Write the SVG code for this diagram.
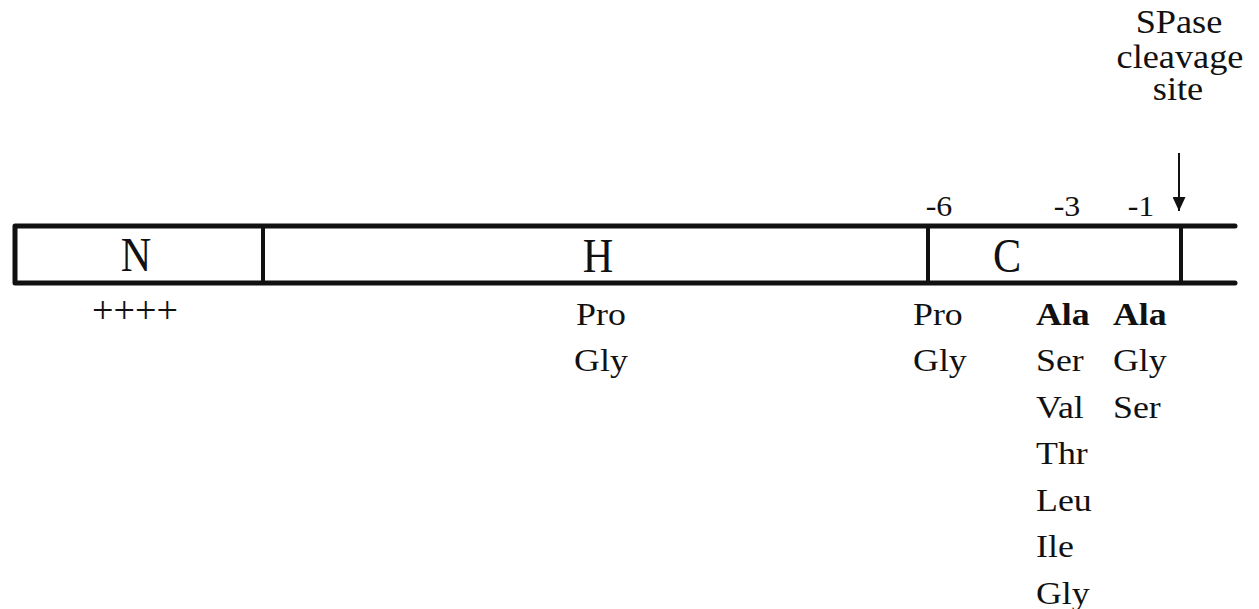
<svg xmlns="http://www.w3.org/2000/svg" width="1259" height="609" viewBox="0 0 1259 609">
<style>
  text { font-family: "Liberation Serif", "Times New Roman", serif; fill: #111; }
  .big { font-size: 48px; text-anchor: middle; transform-box: fill-box; transform-origin: center; transform: scaleX(0.88); }
  .aa { font-size: 32px; transform-box: fill-box; transform-origin: left center; transform: scaleX(1.12); }
  .aam { font-size: 32px; text-anchor: middle; transform-box: fill-box; transform-origin: center; transform: scaleX(1.12); }
  .b { font-weight: bold; }
  .num { font-size: 29px; text-anchor: middle; transform-box: fill-box; transform-origin: center; transform: scaleX(1.1); }
  .lbl { font-size: 33px; text-anchor: middle; transform-box: fill-box; transform-origin: center; transform: scaleX(1.1); }
  .bar { stroke: #111; stroke-width: 5; fill: none; stroke-linecap: round; stroke-linejoin: round; }
  .div { stroke: #111; stroke-width: 4; }
</style>
<defs>
  <marker id="ah" viewBox="0 0 14 13" refX="14" refY="6.5" markerWidth="14" markerHeight="13" markerUnits="userSpaceOnUse" orient="auto">
    <path d="M0,0 L14,6.5 L0,13 Z" fill="#111"/>
  </marker>
</defs>
<g id="bar">
  <path class="bar" d="M1235,226 L15,226 L15,283 L1235,283"/>
  <line class="div" x1="263" y1="226" x2="263" y2="283"/>
  <line class="div" x1="928" y1="226" x2="928" y2="283"/>
  <line class="div" x1="1181" y1="226" x2="1181" y2="283"/>
</g>
<g id="region-N">
  <text class="big" x="136" y="271">N</text>
  <text x="135" y="323" font-size="38" text-anchor="middle" textLength="86" lengthAdjust="spacingAndGlyphs">++++</text>
</g>
<g id="region-H">
  <text class="big" x="598" y="272">H</text>
  <text class="aam" x="601" y="325">Pro</text>
  <text class="aam" x="601" y="371">Gly</text>
</g>
<g id="region-C">
  <text class="big" x="1007" y="272">C</text>
  <text class="num" x="939" y="216">-6</text>
  <text class="num" x="1067" y="216">-3</text>
  <text class="num" x="1141" y="216">-1</text>
  <text class="aa" x="913" y="325">Pro<tspan x="913" dy="46.5">Gly</tspan></text>
  <text class="aa" x="1036" y="325"><tspan class="b">Ala</tspan><tspan x="1036" dy="46.5">Ser</tspan><tspan x="1036" dy="46.5">Val</tspan><tspan x="1036" dy="46.5">Thr</tspan><tspan x="1036" dy="46.5">Leu</tspan><tspan x="1036" dy="46.5">Ile</tspan><tspan x="1036" dy="46.5">Gly</tspan></text>
  <text class="aa" x="1113" y="325"><tspan class="b">Ala</tspan><tspan x="1113" dy="46.5">Gly</tspan><tspan x="1113" dy="46.5">Ser</tspan></text>
</g>
<g id="cleavage-site">
  <text class="lbl" x="1179" y="33">SPase</text>
  <text class="lbl" x="1180" y="68">cleavage</text>
  <text class="lbl" x="1178" y="100">site</text>
</g>
<g id="connectors">
  <line x1="1179" y1="153" x2="1179" y2="211" stroke="#111" stroke-width="2" marker-end="url(#ah)"/>
</g>
</svg>
